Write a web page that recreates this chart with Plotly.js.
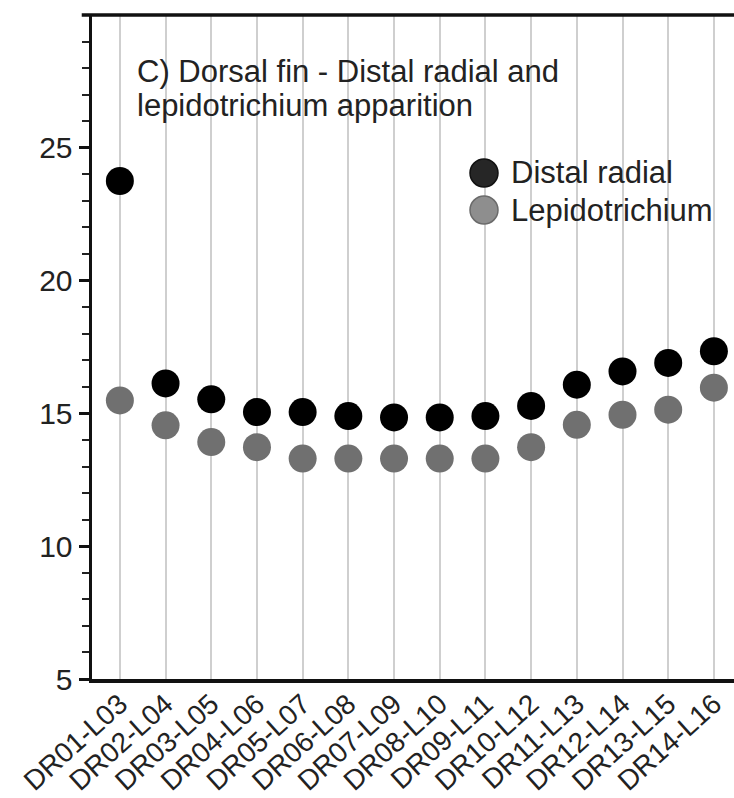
<!DOCTYPE html>
<html>
<head>
<meta charset="utf-8">
<script src="https://cdn.plot.ly/plotly-3.0.1.min.js"></script>
<style>html,body{margin:0;padding:0;background:#fff;}#chart{width:734px;height:798px;}</style>
</head>
<body>
<div id="chart"></div>
<script>
const categories = ["DR01-L03","DR02-L04","DR03-L05","DR04-L06","DR05-L07","DR06-L08","DR07-L09","DR08-L10","DR09-L11","DR10-L12","DR11-L13","DR12-L14","DR13-L15","DR14-L16"];
const distalRadial = [23.75, 16.13, 15.53, 15.05, 15.05, 14.9, 14.85, 14.85, 14.9, 15.28, 16.08, 16.58, 16.9, 17.34];
const lepidotrichium = [15.49, 14.55, 13.92, 13.73, 13.3, 13.3, 13.3, 13.3, 13.3, 13.73, 14.57, 14.95, 15.14, 15.97];
const titleLines = ["C) Dorsal fin - Distal radial and", "lepidotrichium apparition"];
const seriesNames = ["Distal radial", "Lepidotrichium"];
const yTickVals = [5, 10, 15, 20, 25];
const yTickText = ["5", "10", "15", "20", "25"];

const font = "Liberation Sans, Arial, sans-serif";
const FS = 30;
const PT = 15, PB = 679, PL = 92, PR = 734;
const py = p => 1 - (p - PT) / (PB - PT);
const px = p => (p - PL) / (PR - PL);

const traces = [
  {x: categories, y: distalRadial, name: seriesNames[0], type: "scatter", mode: "markers",
   marker: {size: 28, color: "#000000", line: {width: 0}}},
  {x: categories, y: lepidotrichium, name: seriesNames[1], type: "scatter", mode: "markers",
   marker: {size: 28, color: "#707070", line: {width: 0}}}
];

const legendFill = ["#262626", "#8e8e8e"];
const legendLine = ["#111111", "#6a6a6a"];
const legendY = [173, 210];
const shapes = [
  {type: "line", xref: "paper", yref: "paper", x0: -0.016, x1: 1, y0: 1, y1: 1,
   line: {color: "#111", width: 3.5}}
];
const annotations = [];
titleLines.forEach((t, i) => {
  annotations.push({xref: "paper", yref: "paper", x: px(135), y: py(72 + i * 33),
    xanchor: "left", yanchor: "middle", align: "left", showarrow: false, text: t,
    font: {family: font, size: 31, color: "#222"}});
});
seriesNames.forEach((n, i) => {
  shapes.push({type: "circle", xref: "paper", yref: "paper",
    xsizemode: "pixel", ysizemode: "pixel", xanchor: px(484), yanchor: py(legendY[i]),
    x0: -14, x1: 14, y0: -14, y1: 14,
    fillcolor: legendFill[i], line: {color: legendLine[i], width: 1.5}});
  annotations.push({xref: "paper", yref: "paper", x: px(509), y: py(legendY[i]),
    xanchor: "left", yanchor: "middle", align: "left", showarrow: false, text: n,
    font: {family: font, size: 31, color: "#222"}});
});

const layout = {
  width: 734, height: 798,
  margin: {l: PL, r: 734 - PR, t: PT, b: 798 - PB},
  paper_bgcolor: "#fff", plot_bgcolor: "#fff",
  showlegend: false,
  xaxis: {
    type: "category", range: [-0.61, 13.44],
    showgrid: true, gridcolor: "#cfcfcf", gridwidth: 2,
    showline: true, linecolor: "#111", linewidth: 3.5,
    ticks: "", tickangle: -42, ticklabelstandoff: -6,
    tickfont: {family: font, size: 28, color: "#222"},
    zeroline: false, fixedrange: true, automargin: false
  },
  yaxis: {
    range: [5, 30], tickvals: yTickVals, ticktext: yTickText,
    showgrid: false, zeroline: false,
    showline: true, linecolor: "#111", linewidth: 3.5,
    ticks: "outside", ticklen: 10, tickwidth: 3, tickcolor: "#111",
    minor: {dtick: 1, ticks: "outside", ticklen: 7, tickwidth: 2, tickcolor: "#222", showgrid: false},
    tickfont: {family: font, size: FS, color: "#222"},
    fixedrange: true, automargin: false
  },
  shapes: shapes,
  annotations: annotations
};
Plotly.newPlot("chart", traces, layout, {displayModeBar: false, staticPlot: true});
</script>
</body>
</html>
